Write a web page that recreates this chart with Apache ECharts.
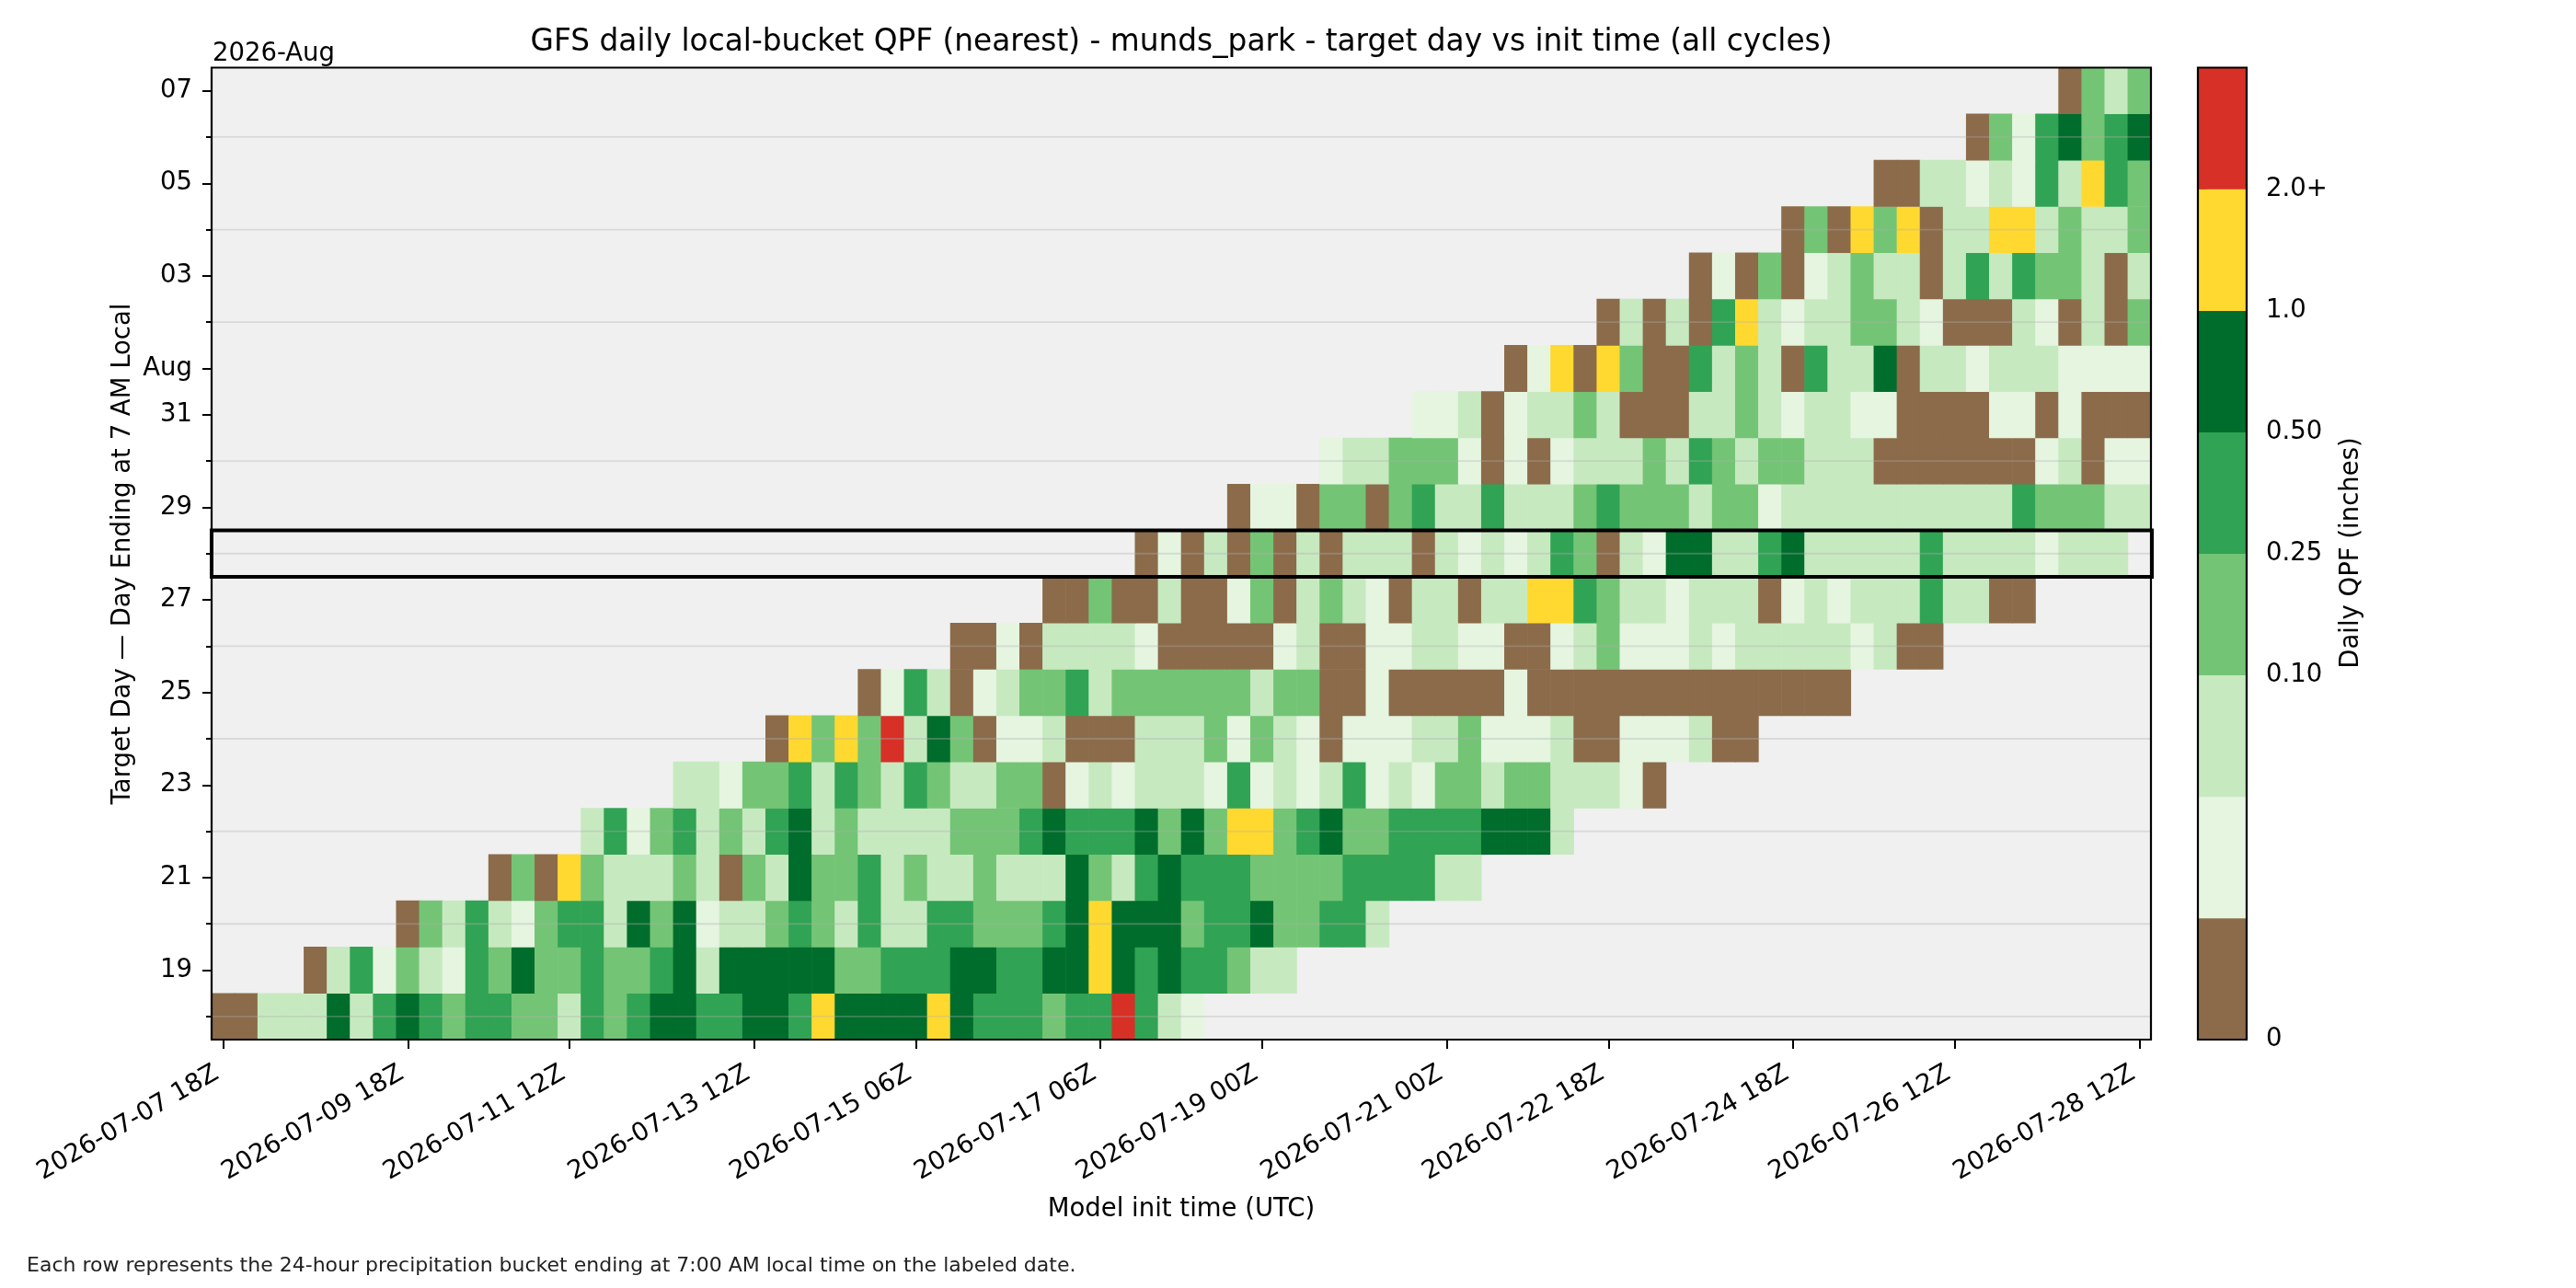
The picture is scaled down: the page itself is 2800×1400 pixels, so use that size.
<!DOCTYPE html>
<html>
<head>
<meta charset="utf-8">
<script src="https://cdn.jsdelivr.net/npm/echarts@6/dist/echarts.min.js"></script>
<style>html,body{margin:0;padding:0;background:#fff}#chart{width:2800px;height:1400px}</style>
</head>
<body>
<div id="chart"></div>
<script>
// ---------- DATA ----------
// Target days (rows, bottom to top)
const targetDays = ['2026-07-18','2026-07-19','2026-07-20','2026-07-21','2026-07-22','2026-07-23','2026-07-24',
  '2026-07-25','2026-07-26','2026-07-27','2026-07-28','2026-07-29','2026-07-30','2026-07-31',
  '2026-08-01','2026-08-02','2026-08-03','2026-08-04','2026-08-05','2026-08-06','2026-08-07'];
const yTickDays   = ['2026-07-19','2026-07-21','2026-07-23','2026-07-25','2026-07-27','2026-07-29','2026-07-31','2026-08-01','2026-08-03','2026-08-05','2026-08-07'];
const yTickLabels = ['19','21','23','25','27','29','31','Aug','03','05','07'];
const xTickLabels = ['2026-07-07 18Z','2026-07-09 18Z','2026-07-11 12Z','2026-07-13 12Z','2026-07-15 06Z','2026-07-17 06Z',
  '2026-07-19 00Z','2026-07-21 00Z','2026-07-22 18Z','2026-07-24 18Z','2026-07-26 12Z','2026-07-28 12Z'];
const highlightDay = '2026-07-28';

// Model init cycles (columns), every 6 h from the first to the last cycle
const firstInit = Date.UTC(2026, 6, 7, 18);
const cycleCount = 84;
const pad2 = n => String(n).padStart(2, '0');
const initCycles = [];
for (let i = 0; i < cycleCount; i++) {
  const d = new Date(firstInit + i * 6 * 3600 * 1000);
  initCycles.push(d.getUTCFullYear() + '-' + pad2(d.getUTCMonth() + 1) + '-' + pad2(d.getUTCDate()) + ' ' + pad2(d.getUTCHours()) + 'Z');
}

// Daily QPF (inches) per target day; each row starts at column rowStartCol[r]
const rowStartCol = [0,4,8,12,16,20,24,28,32,36,40,44,48,52,56,60,64,68,72,76,80];
const jul18 = [0,0,.07,.07,.07,.7,.07,.35,.7,.35,.17,.35,.35,.17,.17,.07,.35,.17,.35,.7,.7,.35,.35,.7,.7,.35,1.4,.7,.7,.7,.7,1.4,.7,.35,.35,.35,.17,.35,.35,2.4,.35,.07,.03];
const jul19 = [0,.07,.35,.03,.17,.07,.03,.35,.17,.7,.17,.17,.35,.17,.17,.35,.7,.07,.7,.7,.7,.7,.7,.17,.17,.35,.35,.35,.7,.7,.35,.35,.7,.7,1.4,.7,.35,.7,.35,.35,.17,.07,.07];
const jul20 = [0,.17,.07,.35,.07,.03,.17,.35,.35,.07,.7,.17,.7,.03,.07,.07,.17,.35,.17,.07,.35,.07,.07,.35,.35,.17,.17,.17,.35,.7,1.4,.7,.7,.7,.17,.35,.35,.7,.17,.17,.35,.35,.07];
const jul21 = [0,.17,0,1.4,.17,.07,.07,.07,.17,.07,0,.17,.07,.7,.17,.17,.35,.07,.17,.07,.07,.17,.07,.07,.07,.7,.17,.07,.35,.7,.35,.35,.35,.17,.17,.17,.17,.35,.35,.35,.35,.07,.07];
const jul22 = [.07,.35,.03,.17,.35,.07,.17,.07,.35,.7,.07,.17,.07,.07,.07,.07,.17,.17,.17,.35,.7,.35,.35,.35,.7,.17,.7,.17,1.4,1.4,.17,.35,.7,.17,.17,.35,.35,.35,.35,.7,.7,.7,.07];
const jul23 = [.07,.07,.03,.17,.17,.35,.07,.35,.17,.07,.35,.17,.07,.07,.17,.17,0,.03,.07,.03,.07,.07,.07,.03,.35,.03,.07,.03,.07,.35,.03,.07,.03,.17,.17,.07,.17,.17,.07,.07,.07,.03,0];
const jul24 = [0,1.4,.17,1.4,.17,2.4,.07,.7,.17,0,.03,.03,.07,0,0,0,.07,.07,.07,.17,.03,.17,.07,.03,0,.03,.03,.03,.07,.07,.17,.03,.03,.03,.07,0,0,.03,.03,.03,.07,0,0];
const jul25 = [0,.03,.35,.07,0,.03,.07,.17,.17,.35,.07,.17,.17,.17,.17,.17,.17,.07,.17,.17,0,0,.03,0,0,0,0,0,.03,0,0,0,0,0,0,0,0,0,0,0,0,0,0];
const jul26 = [0,0,.03,0,.07,.07,.07,.07,.03,0,0,0,0,0,.03,.07,0,0,.03,.03,.07,.07,.03,.03,0,0,.03,.07,.17,.03,.03,.03,.07,.03,.07,.07,.07,.07,.07,.03,.07,0,0];
const jul27 = [0,0,.17,0,0,.07,0,0,.03,.17,0,.07,.17,.07,.03,0,.07,.07,0,.07,.07,1.4,1.4,.35,.17,.07,.07,.03,.07,.07,.07,0,.03,.07,.03,.07,.07,.07,.35,.07,.07,0,0];
const jul28 = [0,.03,0,.07,0,.17,0,.07,0,.07,.07,.07,0,.07,.03,.07,.03,.07,.35,.17,0,.07,.03,.7,.7,.07,.07,.35,.7,.07,.07,.07,.07,.07,.35,.07,.07,.07,.07,.03,.07,.07,.07];
const jul29 = [0,.03,.03,0,.17,.17,0,.17,.35,.07,.07,.35,.07,.07,.07,.17,.35,.17,.17,.17,.07,.17,.17,.03,.07,.07,.07,.07,.07,.07,.07,.07,.07,.07,.35,.17,.17,.17,.07,.07];
const jul30 = [.03,.07,.07,.17,.17,.17,.03,0,.03,0,.03,.07,.07,.07,.17,.07,.35,.17,.07,.17,.17,.07,.07,.07,0,0,0,0,0,0,0,.03,.07,0,.03,.03];
const jul31 = [.03,.03,.07,0,.03,.07,.07,.17,.07,0,0,0,.07,.07,.17,.07,.03,.07,.07,.03,.03,0,0,0,0,.03,.03,0,.03,0,0,0];
const aug01 = [0,.03,1.4,0,1.4,.17,0,0,.35,.07,.17,.07,0,.35,.07,.07,.7,0,.07,.07,.03,.07,.07,.07,.03,.03,.03,.03];
const aug02 = [0,.07,0,.07,0,.35,1.4,.07,.03,.07,.07,.17,.17,.07,.03,0,0,0,.07,.03,0,.07,0,.17];
const aug03 = [0,.03,0,.17,0,.03,.07,.17,.07,.07,0,.07,.35,.07,.35,.17,.17,.07,0,.07];
const aug04 = [0,.17,0,1.4,.17,1.4,0,.07,.07,1.4,1.4,.07,.17,.07,.07,.17];
const aug05 = [0,0,.07,.07,.03,.07,.03,.35,.07,1.4,.35,.17];
const aug06 = [0,.17,.03,.35,.7,.17,.35,.7];
const aug07 = [0,.17,.07,.17];

// Colour bins (inches)
const binEdges  = [0, 0.01, 0.05, 0.10, 0.25, 0.50, 1.0, 2.0];
const binColors = ['#8b6b4a','#e5f5e0','#c7e9c0','#74c476','#31a354','#006d2c','#ffd92f','#d73027'];
const cbTickLabels = ['0', '', '', '0.10', '0.25', '0.50', '1.0', '2.0+'];

// ---------- BUILD ----------
const qpfRows = [jul18,jul19,jul20,jul21,jul22,jul23,jul24,jul25,jul26,jul27,jul28,jul29,jul30,jul31,aug01,aug02,aug03,aug04,aug05,aug06,aug07];
const cellData = [];
qpfRows.forEach((row, r) => row.forEach((v, i) => cellData.push([rowStartCol[r] + i, r, v])));

function binIndex(v) {
  let k = 0;
  for (let i = 0; i < binEdges.length; i++) if (v >= binEdges[i]) k = i;
  return k;
}
const FONT = 'DejaVu Sans';
const isMajor = (i, v) => yTickDays.indexOf(v) >= 0;
const minorRows = targetDays.map((d, i) => i).filter(i => yTickDays.indexOf(targetDays[i]) < 0).map(i => [0, i]);

const chart = echarts.init(document.getElementById('chart'), null, {renderer: 'canvas'});
const option = {
  animation: false,
  backgroundColor: '#ffffff',
  grid: [
    {left: 230, top: 73.5, width: 2108, height: 1056.5, show: true, backgroundColor: '#f0f0f0', borderWidth: 0, containLabel: false, outerBoundsMode: 'none'},
    {left: 2389, top: 73.5, width: 53, height: 1056.5, show: false, containLabel: false, outerBoundsMode: 'none'}
  ],
  xAxis: [
    {type: 'category', gridIndex: 0, data: initCycles, boundaryGap: true,
     axisLine: {show: false},
     axisTick: {show: true, alignWithLabel: true, interval: (i, v) => xTickLabels.indexOf(v) >= 0, length: 10, lineStyle: {color: '#000', width: 2}},
     axisLabel: {show: true, interval: (i, v) => xTickLabels.indexOf(v) >= 0, rotate: 30, margin: 31, padding: [0, 8, 0, 0],
                 fontSize: 27.5, fontFamily: FONT, color: '#000'},
     splitLine: {show: false}},
    {type: 'value', gridIndex: 1, min: 0, max: 1, show: false}
  ],
  yAxis: [
    {type: 'category', gridIndex: 0, data: targetDays, position: 'left', boundaryGap: true,
     axisLine: {show: false},
     axisTick: {show: true, alignWithLabel: true, interval: isMajor, length: 10, lineStyle: {color: '#000', width: 2}},
     axisLabel: {show: true, interval: isMajor, formatter: v => yTickLabels[yTickDays.indexOf(v)] || '', margin: 21,
                 padding: [4, 0, 0, 0], fontSize: 27.5, fontFamily: FONT, color: '#000'},
     splitLine: {show: false}},
    {type: 'category', gridIndex: 0, data: targetDays, position: 'left', boundaryGap: true,
     axisLine: {show: false}, axisLabel: {show: false}, splitLine: {show: false},
     axisTick: {show: true, alignWithLabel: true, interval: (i, v) => !isMajor(i, v), length: 6, lineStyle: {color: '#000', width: 2}}},
    {type: 'value', gridIndex: 1, min: 0, max: 8, interval: 1, position: 'right',
     axisLine: {show: false}, splitLine: {show: false},
     axisTick: {show: true, length: 10, lineStyle: {color: '#000', width: 2}, customValues: [0,1,2,3,4,5,6,7]},
     axisLabel: {show: true, margin: 21, padding: [4, 0, 0, 0], fontSize: 27.5, fontFamily: FONT, color: '#000', customValues: [0,3,4,5,6,7],
                 formatter: v => (v >= 0 && v < cbTickLabels.length) ? cbTickLabels[v] : ''}}
  ],
  series: [
    {type: 'custom', name: 'qpf', xAxisIndex: 0, yAxisIndex: 0, z: 2, silent: true,
     dimensions: ['init', 'day', 'qpf'], encode: {x: 0, y: 1},
     data: cellData,
     renderItem: (params, api) => {
       const c = api.coord([api.value(0), api.value(1)]);
       const s = api.size([1, 1]);
       return {type: 'rect', shape: {x: c[0] - s[0] / 2 - 0.3, y: c[1] - s[1] / 2 - 0.3, width: s[0] + 0.6, height: s[1] + 0.6},
               style: {fill: binColors[binIndex(api.value(2))]}};
     }},
    {type: 'custom', name: 'grid', xAxisIndex: 0, yAxisIndex: 0, z: 3, silent: true, encode: {x: 0, y: 1},
     data: minorRows,
     renderItem: (params, api) => {
       const y = api.coord([0, api.value(1)])[1];
       const cs = params.coordSys;
       return {type: 'line', shape: {x1: cs.x, y1: y, x2: cs.x + cs.width, y2: y},
               style: {stroke: 'rgba(176,176,176,0.35)', lineWidth: 1.8}};
     }},
    {type: 'custom', name: 'highlight', xAxisIndex: 0, yAxisIndex: 0, z: 4, silent: true, encode: {x: 0, y: 1},
     data: [[0, targetDays.indexOf(highlightDay)]],
     renderItem: (params, api) => {
       const y = api.coord([0, api.value(1)])[1];
       const h = api.size([1, 1])[1];
       const cs = params.coordSys;
       return {type: 'rect', shape: {x: cs.x, y: y - h / 2, width: cs.width + 1, height: h},
               style: {fill: 'none', stroke: '#000', lineWidth: 4}};
     }},
    {type: 'custom', name: 'frame', xAxisIndex: 0, yAxisIndex: 0, z: 5, silent: true, encode: {x: 0, y: 1},
     data: [[0, 0]],
     renderItem: (params, api) => {
       const cs = params.coordSys;
       return {type: 'rect', shape: {x: cs.x, y: cs.y, width: cs.width, height: cs.height},
               style: {fill: 'none', stroke: '#000', lineWidth: 2.2}};
     }},
    {type: 'custom', name: 'colorbar', xAxisIndex: 1, yAxisIndex: 2, z: 2, silent: true, encode: {x: 0, y: 1},
     data: binColors.map((c, i) => [0, i]),
     renderItem: (params, api) => {
       const i = api.value(1);
       const y0 = api.coord([0, i])[1];
       const y1 = api.coord([0, i + 1])[1];
       const cs = params.coordSys;
       return {type: 'rect', shape: {x: cs.x, y: y1 - 0.3, width: cs.width, height: y0 - y1 + 0.6},
               style: {fill: binColors[i]}};
     }},
    {type: 'custom', name: 'cbframe', xAxisIndex: 1, yAxisIndex: 2, z: 5, silent: true, encode: {x: 0, y: 1},
     data: [[0, 0]],
     renderItem: (params, api) => {
       const cs = params.coordSys;
       return {type: 'rect', shape: {x: cs.x, y: cs.y, width: cs.width, height: cs.height},
               style: {fill: 'none', stroke: '#000', lineWidth: 2.2}};
     }}
  ],
  graphic: [
    {type: 'text', x: 1284, y: 46.5, style: {text: 'GFS daily local-bucket QPF (nearest) - munds_park - target day vs init time (all cycles)',
      fontSize: 32.8, fontFamily: FONT, fill: '#000', align: 'center', verticalAlign: 'middle'}},
    {type: 'text', x: 231, y: 58.5, style: {text: '2026-Aug', fontSize: 27.5, fontFamily: FONT, fill: '#000', align: 'left', verticalAlign: 'middle'}},
    {type: 'text', x: 1284, y: 1314.5, style: {text: 'Model init time (UTC)', fontSize: 27.5, fontFamily: FONT, fill: '#000', align: 'center', verticalAlign: 'middle'}},
    {type: 'text', x: 133.5, y: 602, rotation: Math.PI / 2, style: {text: 'Target Day \u2014 Day Ending at 7 AM Local', fontSize: 27.5, fontFamily: FONT, fill: '#000', align: 'center', verticalAlign: 'middle'}},
    {type: 'text', x: 2555.5, y: 601, rotation: Math.PI / 2, style: {text: 'Daily QPF (inches)', fontSize: 27.5, fontFamily: FONT, fill: '#000', align: 'center', verticalAlign: 'middle'}},
    {type: 'text', x: 29, y: 1376.5, style: {text: 'Each row represents the 24-hour precipitation bucket ending at 7:00 AM local time on the labeled date.',
      fontSize: 22, fontFamily: FONT, fill: '#222', align: 'left', verticalAlign: 'middle'}}
  ]
};
chart.setOption(option);
</script>
</body>
</html>
